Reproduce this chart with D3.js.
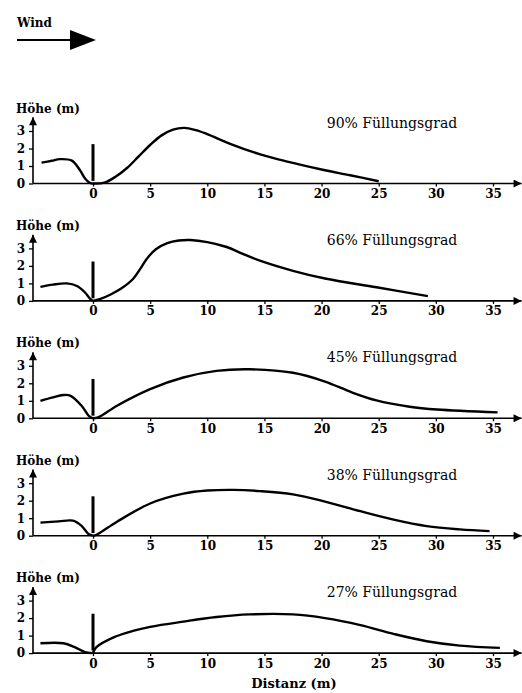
<!DOCTYPE html>
<html><head><meta charset="utf-8">
<script src="https://cdn.jsdelivr.net/npm/d3@7"></script>
<style>html,body{margin:0;padding:0;background:#fff;}svg{display:block;}</style>
</head><body>
<script>
// ---- data ----
const panelLabels = ["90% Füllungsgrad", "66% Füllungsgrad", "45% Füllungsgrad", "38% Füllungsgrad", "27% Füllungsgrad"];
const xTicks = [0, 5, 10, 15, 20, 25, 30, 35];
const yTicks = [0, 1, 2, 3];
const wallHeight = [0.15, 2.25];

const left90x = [-4.5, -3.6, -2.9, -1.85, -1.15, -0.7, -0.26, 0];
const left90y = [1.19, 1.3, 1.39, 1.31, 0.77, 0.29, 0.03, 0];
const right90x = [0, 1, 2, 3, 4, 5, 6, 7, 8, 9, 10, 12, 14.7, 17, 20, 22.5, 25];
const right90y = [0, 0.05, 0.4, 0.9, 1.55, 2.2, 2.75, 3.08, 3.18, 3.05, 2.82, 2.27, 1.65, 1.25, 0.8, 0.47, 0.13];

const left66x = [-4.6, -3.5, -2.3, -1.4, -0.7, -0.25, 0];
const left66y = [0.8, 0.93, 1.0, 0.85, 0.48, 0.12, 0];
const right66x = [0, 0.6, 1.5, 2.5, 3.5, 4.1, 4.7, 5.5, 6.5, 7.5, 8.5, 10, 11.7, 13, 14.6, 17.5, 20.3, 24.8, 29.3];
const right66y = [0, 0.1, 0.35, 0.72, 1.25, 1.8, 2.4, 2.95, 3.3, 3.45, 3.48, 3.36, 3.08, 2.72, 2.3, 1.72, 1.28, 0.78, 0.27];

const left45x = [-4.6, -3.5, -2.6, -2.0, -1.0, -0.35, 0];
const left45y = [1.0, 1.2, 1.33, 1.3, 0.72, 0.12, 0];
const right45x = [0, 0.45, 2.1, 5, 7.9, 10.8, 13.7, 17.5, 20.3, 22.7, 24.8, 27.7, 30.1, 35.4];
const right45y = [0, 0.05, 0.72, 1.67, 2.33, 2.71, 2.8, 2.6, 2.1, 1.47, 1.02, 0.66, 0.5, 0.34];

const left38x = [-4.6, -3, -1.75, -1.0, -0.4, 0];
const left38y = [0.75, 0.82, 0.86, 0.56, 0.1, 0];
const right38x = [0, 0.3, 2.1, 5, 7.9, 10, 12.3, 14.6, 17.5, 20.3, 23.4, 26.3, 29.2, 32.1, 34.7];
const right38y = [0, 0.05, 0.8, 1.84, 2.4, 2.58, 2.62, 2.55, 2.36, 1.95, 1.4, 0.92, 0.55, 0.36, 0.26];

const left27x = [-4.6, -2.6, -1.6, -0.7, -0.1];
const left27y = [0.56, 0.56, 0.34, 0.06, 0];
const right27x = [0, 0.3, 1.8, 3.5, 5, 7.9, 10.8, 13.7, 17.5, 20.3, 23.4, 26.3, 29.2, 32.1, 35.6];
const right27y = [0.02, 0.34, 0.9, 1.27, 1.5, 1.8, 2.06, 2.21, 2.21, 2.0, 1.6, 1.1, 0.68, 0.43, 0.3];

const leftX = [left90x, left66x, left45x, left38x, left27x];
const leftY = [left90y, left66y, left45y, left38y, left27y];
const rightX = [right90x, right66x, right45x, right38x, right27x];
const rightY = [right90y, right66y, right45y, right38y, right27y];

// ---- layout ----
const W = 522, H = 693;
const FONT = "'DejaVu Serif', 'Liberation Serif', serif";
const svg = d3.select("body").append("svg").attr("width", W).attr("height", H);

const defs = svg.append("defs");
defs.append("marker").attr("id", "ah").attr("viewBox", "0 0 10 10")
  .attr("refX", 10).attr("refY", 5).attr("markerWidth", 10).attr("markerHeight", 8)
  .attr("markerUnits", "userSpaceOnUse").attr("orient", "auto")
  .append("path").attr("d", "M0,0 L10,5 L0,10 Z").attr("fill", "#000");

const x = d3.scaleLinear().domain([0, 35]).range([93, 493]);
const xAxisStart = -5.25, xAxisEnd = 37.5;
const baseline0 = 183.5, panelStep = 117.4, yPx3 = 52.5;

// Wind arrow
svg.append("text").attr("x", 17).attr("y", 27).attr("font-family", FONT)
  .attr("font-size", 12).attr("font-weight", "bold").text("Wind");
svg.append("line").attr("x1", 17).attr("x2", 72).attr("y1", 40).attr("y2", 40)
  .attr("stroke", "#000").attr("stroke-width", 2);
svg.append("path").attr("d", "M70,30 L96,40 L70,50 Z").attr("fill", "#000");

const line = d3.line().curve(d3.curveCatmullRom.alpha(0.5));

panelLabels.forEach((lab, i) => {
  const b = baseline0 + i * panelStep;
  const y = d3.scaleLinear().domain([0, 3]).range([b, b - yPx3]);
  const g = svg.append("g");

  g.append("line").attr("x1", x(xAxisStart)).attr("x2", x(xAxisEnd))
    .attr("y1", b).attr("y2", b).attr("stroke", "#000").attr("stroke-width", 1.6)
    .attr("marker-end", "url(#ah)");
  g.append("line").attr("x1", x(xAxisStart)).attr("x2", x(xAxisStart))
    .attr("y1", b).attr("y2", y(3.78)).attr("stroke", "#000").attr("stroke-width", 1.6)
    .attr("marker-end", "url(#ah)");

  const xa = d3.axisBottom(x).tickValues(xTicks).tickSize(3).tickPadding(3).tickFormat(d3.format("d"));
  const gx = g.append("g").attr("transform", `translate(0,${b})`).call(xa);
  gx.select(".domain").remove();
  gx.selectAll(".tick line").attr("stroke", "#000").attr("stroke-width", 1.3);
  gx.selectAll("text").attr("font-family", FONT).attr("font-size", 12).attr("font-weight", "bold").attr("fill", "#000");

  const ya = d3.axisLeft(y).tickValues(yTicks).tickSize(4).tickPadding(4).tickFormat(d3.format("d"));
  const gy = g.append("g").attr("transform", `translate(${x(xAxisStart)},0)`).call(ya);
  gy.select(".domain").remove();
  gy.selectAll(".tick line").attr("stroke", "#000").attr("stroke-width", 1.3);
  gy.selectAll("text").attr("font-family", FONT).attr("font-size", 12).attr("font-weight", "bold").attr("fill", "#000");

  g.append("text").attr("x", 16).attr("y", b - 71).attr("font-family", FONT)
    .attr("font-size", 12).attr("font-weight", "bold").text("Höhe (m)");

  g.append("text").attr("x", 392).attr("y", b - 56).attr("text-anchor", "middle")
    .attr("font-family", FONT).attr("font-size", 14).text(lab);

  g.append("line").attr("x1", x(0)).attr("x2", x(0))
    .attr("y1", y(wallHeight[0])).attr("y2", y(wallHeight[1]))
    .attr("stroke", "#000").attr("stroke-width", 3);

  const lp = leftX[i].map((v, k) => [x(v), y(leftY[i][k])]);
  const rp = rightX[i].map((v, k) => [x(v), y(rightY[i][k])]);
  [lp, rp].forEach(pts => {
    g.append("path").attr("d", line(pts)).attr("fill", "none")
      .attr("stroke", "#000").attr("stroke-width", 2.4).attr("stroke-linecap", "butt");
  });
});

svg.append("text").attr("x", 294).attr("y", 688).attr("text-anchor", "middle")
  .attr("font-family", FONT).attr("font-size", 13).attr("font-weight", "bold").text("Distanz (m)");
</script>
</body></html>
